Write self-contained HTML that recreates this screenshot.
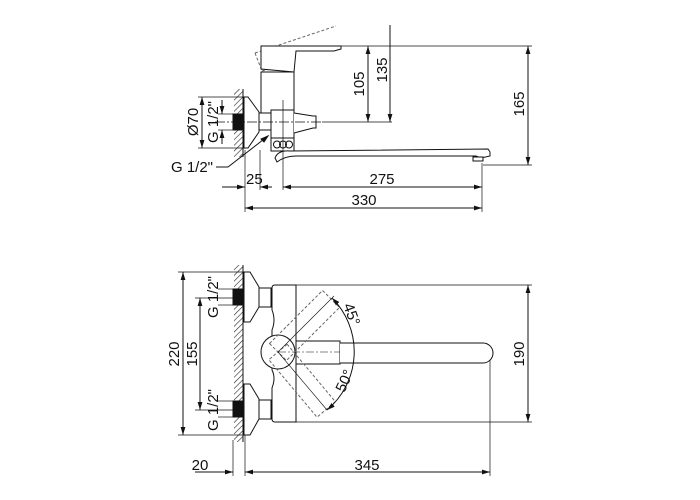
<!DOCTYPE html>
<html><head><meta charset="utf-8"><style>
html,body{margin:0;padding:0;background:#fff}
svg{display:block}
text{font-family:"Liberation Sans",sans-serif;font-size:15px;fill:#111}
</style></head><body>
<svg width="700" height="500" viewBox="0 0 700 500" xmlns="http://www.w3.org/2000/svg">
<defs>
<pattern id="h" width="4" height="4" patternUnits="userSpaceOnUse" patternTransform="rotate(45)">
<line x1="0" y1="0" x2="0" y2="4" stroke="#222" stroke-width="1.2"/>
</pattern>
<marker id="a" viewBox="0 0 10 10" refX="10" refY="5" markerWidth="8" markerHeight="8" orient="auto-start-reverse" markerUnits="userSpaceOnUse">
<path d="M0,2 L10,5 L0,8 z" fill="#111"/>
</marker>
</defs>
<g fill="none" stroke="#111" stroke-width="1">
<!-- ===== TOP VIEW ===== -->
<rect x="234" y="89" width="9" height="68" fill="url(#h)" stroke="none"/>
<line x1="243" y1="89" x2="243" y2="157"/>
<rect x="233" y="114" width="10" height="16" fill="#111"/>
<path d="M244,97 L248,97 L259,112 L259,132 L248,148 L244,148 z" fill="#fff"/>
<rect x="259" y="113" width="12" height="17" fill="#fff"/>
<!-- dashed tilted handle -->
<path d="M255,53 L336,26 M255,53 L262,71 M262,71 L292,62" stroke-dasharray="3,2" stroke="#666"/>
<!-- handle -->
<path d="M261,46 L341,46 L341,49 L334,51 L296,51 L294,72 L261,69 z" fill="#fff"/>
<!-- body -->
<rect x="261" y="72" width="33" height="41" fill="#fff"/>
<rect x="271" y="110" width="23" height="28" fill="#fff"/>
<path d="M294,113 L313,116 L316,116 L316,128 L313,128 L294,133" fill="#fff"/>
<rect x="271" y="138" width="23" height="13" fill="#fff"/>
<circle cx="277" cy="144.5" r="3.5"/><circle cx="283" cy="144.5" r="3.5"/><circle cx="289" cy="144.5" r="3.5"/>
<!-- spout -->
<path d="M275,158 Q278,150 290,151 L488,149 L490,152 L490,156 L481,158 L476,156 L296,156 Q285,156 277,162 z" fill="#fff"/>
<rect x="473" y="157" width="10" height="4" fill="#fff"/>
<line x1="215" y1="122" x2="322" y2="122" stroke-dasharray="10,2,2,2" stroke-width="0.7"/>
<line x1="283" y1="100" x2="283" y2="190" stroke-width="0.7"/>
<line x1="322" y1="122" x2="392" y2="122" stroke-width="0.7"/>
<line x1="341" y1="46" x2="532" y2="46" stroke-width="0.7"/>
<line x1="483" y1="165" x2="532" y2="165" stroke-width="0.7"/>
<line x1="368" y1="46" x2="368" y2="122" marker-start="url(#a)" marker-end="url(#a)"/>
<line x1="390" y1="25" x2="390" y2="122" marker-end="url(#a)"/>
<line x1="528" y1="46" x2="528" y2="165" marker-start="url(#a)" marker-end="url(#a)"/>
<line x1="198" y1="97" x2="244" y2="97" stroke-width="0.7"/>
<line x1="198" y1="148" x2="244" y2="148" stroke-width="0.7"/>
<line x1="218" y1="114" x2="234" y2="114" stroke-width="0.7"/>
<line x1="218" y1="130" x2="234" y2="130" stroke-width="0.7"/>
<line x1="202" y1="97" x2="202" y2="148" marker-start="url(#a)" marker-end="url(#a)"/>
<line x1="222" y1="100" x2="222" y2="114" marker-end="url(#a)"/>
<line x1="222" y1="144" x2="222" y2="130" marker-end="url(#a)"/>
<path d="M216,167 L228,167 L268,136" />
<path d="M268,136 l-7,3 l3,3 z" fill="#111"/>
<line x1="245" y1="150" x2="245" y2="212" stroke-width="0.7"/>
<line x1="260" y1="150" x2="260" y2="190" stroke-width="0.7"/>
<line x1="482" y1="163" x2="482" y2="212" stroke-width="0.7"/>
<line x1="222" y1="187" x2="245" y2="187" marker-end="url(#a)"/>
<line x1="272" y1="187" x2="260" y2="187" marker-end="url(#a)"/>
<line x1="283" y1="187" x2="482" y2="187" marker-start="url(#a)" marker-end="url(#a)"/>
<line x1="245" y1="208" x2="482" y2="208" marker-start="url(#a)" marker-end="url(#a)"/>

<!-- ===== BOTTOM VIEW ===== -->
<rect x="234" y="265" width="9" height="177" fill="url(#h)" stroke="none"/>
<line x1="243" y1="265" x2="243" y2="442"/>
<rect x="233" y="289" width="10" height="16" fill="#111"/>
<rect x="233" y="401" width="10" height="16" fill="#111"/>
<path d="M244,272 L250,272 L259,287 L259,307 L250,322 L244,322 z" fill="#fff"/>
<rect x="259" y="288" width="12" height="19" fill="#fff"/>
<path d="M244,384 L250,384 L259,399 L259,419 L250,435 L244,435 z" fill="#fff"/>
<rect x="259" y="400" width="12" height="19" fill="#fff"/>
<path d="M275,285 L296,285 L296,422 L275,422 Q272,422 272,419 L272,388 Q276,378 272,370 L272,330 Q276,320 272,310 L272,288 Q272,285 275,285 z" fill="#fff"/>
<rect x="296" y="341" width="44" height="23" fill="#fff"/>
<path d="M340,343 L483,343 A10,10 0 0 1 483,363 L340,363" fill="#fff"/>
<circle cx="278" cy="352" r="17" fill="#fff"/>
<line x1="278" y1="352" x2="340" y2="352" stroke-dasharray="8,2,2,2" stroke-width="0.6"/>
<g stroke="#666" stroke-dasharray="3,2">
<rect x="278" y="340" width="75" height="24" transform="rotate(-45 278 352)"/>
<rect x="278" y="340" width="75" height="24" transform="rotate(50 278 352)"/>
</g>
<g stroke-width="0.6">
<line x1="278" y1="352" x2="334" y2="296"/>
<line x1="278" y1="352" x2="327" y2="410"/>
</g>
<path d="M332,298 A76,76 0 0 1 327,410" marker-start="url(#a)" marker-end="url(#a)"/>
<line x1="178" y1="272" x2="244" y2="272" stroke-width="0.7"/>
<line x1="178" y1="435" x2="244" y2="435" stroke-width="0.7"/>
<line x1="195" y1="298" x2="234" y2="298" stroke-width="0.7"/>
<line x1="195" y1="410" x2="234" y2="410" stroke-width="0.7"/>
<line x1="183" y1="272" x2="183" y2="435" marker-start="url(#a)" marker-end="url(#a)"/>
<line x1="200" y1="298" x2="200" y2="410" marker-start="url(#a)" marker-end="url(#a)"/>
<line x1="218" y1="289" x2="234" y2="289" stroke-width="0.7"/>
<line x1="218" y1="305" x2="234" y2="305" stroke-width="0.7"/>
<line x1="218" y1="401" x2="234" y2="401" stroke-width="0.7"/>
<line x1="218" y1="417" x2="234" y2="417" stroke-width="0.7"/>
<line x1="296" y1="285" x2="532" y2="285" stroke-width="0.7"/>
<line x1="296" y1="422" x2="532" y2="422" stroke-width="0.7"/>
<line x1="528" y1="285" x2="528" y2="422" marker-start="url(#a)" marker-end="url(#a)"/>
<line x1="233" y1="440" x2="233" y2="476" stroke-width="0.7"/>
<line x1="245" y1="435" x2="245" y2="476" stroke-width="0.7"/>
<line x1="490" y1="360" x2="490" y2="476" stroke-width="0.7"/>
<line x1="195" y1="472" x2="233" y2="472" marker-end="url(#a)"/>
<line x1="245" y1="472" x2="490" y2="472" marker-start="url(#a)" marker-end="url(#a)"/>
</g>

<g>
<text transform="translate(364,84) rotate(-90)" text-anchor="middle">105</text>
<text transform="translate(387,70) rotate(-90)" text-anchor="middle">135</text>
<text transform="translate(524,104) rotate(-90)" text-anchor="middle">165</text>
<text transform="translate(198,122) rotate(-90)" text-anchor="middle">Ø70</text>
<text transform="translate(218,122) rotate(-90)" text-anchor="middle">G 1/2"</text>
<text x="171" y="172">G 1/2"</text>
<text x="246" y="184">25</text>
<text x="382" y="184" text-anchor="middle">275</text>
<text x="364" y="205" text-anchor="middle">330</text>
<text transform="translate(179,354) rotate(-90)" text-anchor="middle">220</text>
<text transform="translate(197,354) rotate(-90)" text-anchor="middle">155</text>
<text transform="translate(218,297) rotate(-90)" text-anchor="middle">G 1/2"</text>
<text transform="translate(218,410) rotate(-90)" text-anchor="middle">G 1/2"</text>
<text transform="translate(524,354) rotate(-90)" text-anchor="middle">190</text>
<text transform="translate(347,316) rotate(70)" text-anchor="middle">45°</text>
<text transform="translate(349,383) rotate(-65)" text-anchor="middle">50°</text>
<text x="200" y="470" text-anchor="middle">20</text>
<text x="367" y="470" text-anchor="middle">345</text>
</g>
</svg>
</body></html>
